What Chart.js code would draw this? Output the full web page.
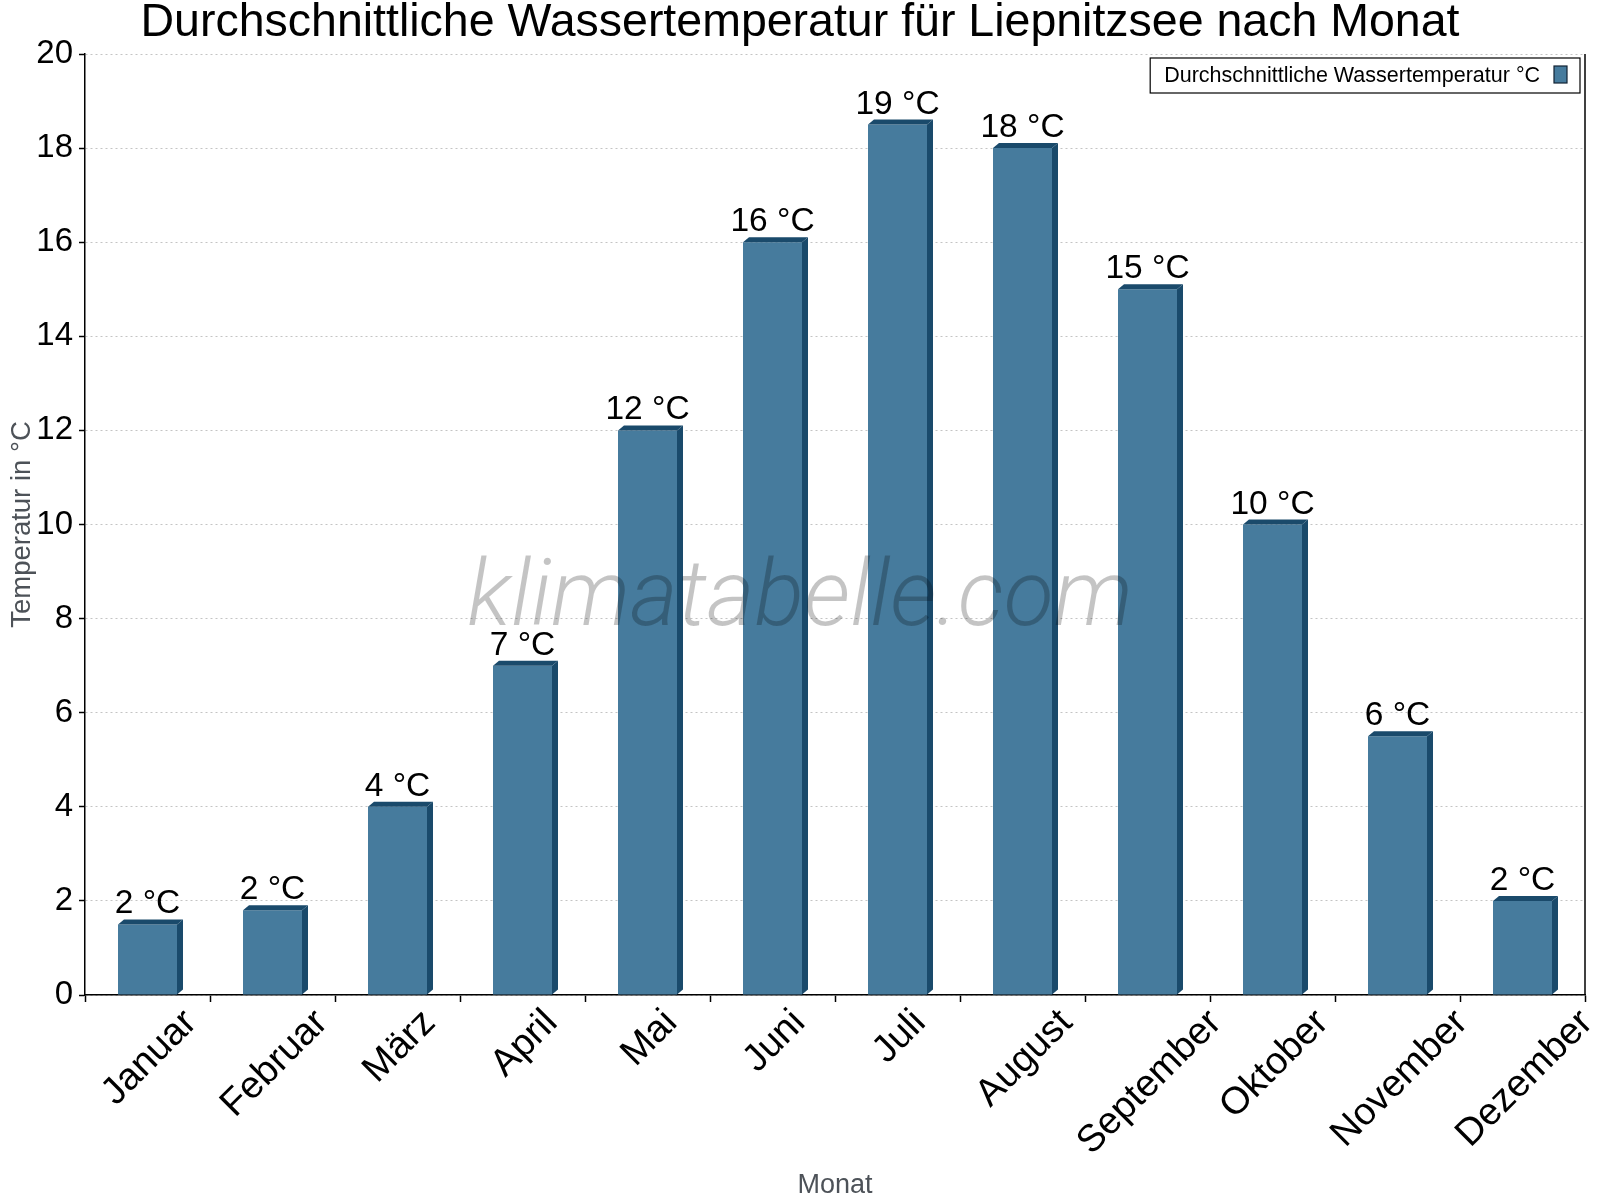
<!DOCTYPE html>
<html><head><meta charset="utf-8">
<script src="https://cdn.jsdelivr.net/npm/chart.js@4.4.0/dist/chart.umd.min.js"></script>
<style>html,body{margin:0;padding:0;background:#fff;}canvas{display:block;}</style>
</head><body>
<canvas id="c" width="1600" height="1200"></canvas>
<script>
const months = ['Januar','Februar','März','April','Mai','Juni','Juli','August','September','Oktober','November','Dezember'];
const waterTemp = [1.5, 1.8, 4, 7, 12, 16, 18.5, 18, 15, 10, 5.5, 2];
const yMin = 0, yMax = 20, yStep = 2;
const seriesLabel = 'Durchschnittliche Wassertemperatur °C';
const chartTitle = 'Durchschnittliche Wassertemperatur für Liepnitzsee nach Monat';
const yTitle = 'Temperatur in °C';
const xTitle = 'Monat';
const unit = '°C';
const watermarkText = 'klimatabelle.com';

const FRONT = '#467b9d';
const DARK = '#1a4a6b';
const FONT = "'Liberation Sans', Arial, sans-serif";
const DEPTH_X = 6, DEPTH_Y = 5;

const bar3d = {
  id: 'bar3d',
  afterDatasetsDraw(chart) {
    const ctx = chart.ctx;
    const meta = chart.getDatasetMeta(0);
    ctx.save();
    ctx.fillStyle = DARK;
    meta.data.forEach((bar) => {
      const l = bar.x - bar.width / 2, r = bar.x + bar.width / 2;
      const t = bar.y, b = bar.base;
      ctx.beginPath();
      ctx.moveTo(r, t); ctx.lineTo(r + DEPTH_X, t - DEPTH_Y);
      ctx.lineTo(r + DEPTH_X, b - DEPTH_Y); ctx.lineTo(r, b); ctx.closePath(); ctx.fill();
      ctx.beginPath();
      ctx.moveTo(l, t); ctx.lineTo(l + DEPTH_X, t - DEPTH_Y);
      ctx.lineTo(r + DEPTH_X, t - DEPTH_Y); ctx.lineTo(r, t); ctx.closePath(); ctx.fill();
    });
    // value labels
    ctx.fillStyle = '#000';
    ctx.font = '33.5px ' + FONT;
    ctx.textAlign = 'center';
    ctx.textBaseline = 'alphabetic';
    meta.data.forEach((bar, i) => {
      ctx.fillText(Math.round(waterTemp[i]) + ' ' + unit, bar.x, bar.y - 11);
    });
    // x labels rotated, centred on category
    const xs = chart.scales.x;
    const f = 38;
    ctx.font = f + 'px ' + FONT;
    ctx.textAlign = 'left';
    const capH = 0.716 * f, top = xs.top + 10;
    months.forEach((m, i) => {
      const cx = xs.getPixelForValue(i);
      const L = ctx.measureText(m).width;
      const cy = top + 0.7071 * (L + capH) / 2;
      ctx.save();
      ctx.translate(cx, cy);
      ctx.rotate(-Math.PI / 4);
      ctx.fillText(m, -L / 2, capH / 2);
      ctx.restore();
    });
    // right border
    const ca = chart.chartArea;
    ctx.strokeStyle = '#000';
    ctx.lineWidth = 1.5;
    ctx.beginPath();
    ctx.moveTo(ca.right, ca.top); ctx.lineTo(ca.right, ca.bottom); ctx.stroke();
    // legend
    ctx.font = '21.5px ' + FONT;
    const tw = ctx.measureText(seriesLabel).width;
    const bw = 14 + tw + 14 + 13 + 13, bh = 35;
    const bx = ca.right - 5 - bw, by = ca.top + 4;
    ctx.fillStyle = '#fff';
    ctx.fillRect(bx, by, bw, bh);
    ctx.lineWidth = 1.2;
    ctx.strokeRect(bx, by, bw, bh);
    ctx.fillStyle = '#000';
    ctx.textAlign = 'left';
    ctx.textBaseline = 'middle';
    ctx.fillText(seriesLabel, bx + 14, by + bh / 2 + 1);
    const sx = bx + 14 + tw + 14;
    ctx.fillStyle = FRONT;
    ctx.fillRect(sx, by + 8, 13, 17);
    ctx.strokeStyle = '#123';
    ctx.lineWidth = 1.2;
    ctx.strokeRect(sx, by + 8, 13, 17);
    // watermark
    ctx.font = "italic 300 92px Roboto, 'Liberation Sans', sans-serif";
    ctx.fillStyle = 'rgba(0,0,0,0.23)';
    ctx.textAlign = 'center';
    ctx.textBaseline = 'alphabetic';
    ctx.fillText(watermarkText, chart.width / 2, (ca.top + ca.bottom) / 2 + 100);
    ctx.restore();
  }
};

function makeChart() {
  new Chart(document.getElementById('c'), {
    type: 'bar',
    data: {
      labels: months,
      datasets: [{
        label: seriesLabel,
        data: waterTemp,
        backgroundColor: FRONT,
        borderWidth: 0,
        categoryPercentage: 1,
        barPercentage: 0.472
      }]
    },
    options: {
      responsive: false,
      devicePixelRatio: 1,
      animation: false,
      layout: { padding: { left: 15, right: 15, top: 0, bottom: 0 } },
      plugins: {
        legend: { display: false },
        tooltip: { enabled: false },
        title: {
          display: true,
          text: chartTitle,
          color: '#000',
          font: { family: FONT, size: 46.5, weight: 'normal', lineHeight: 1.0 },
          padding: { top: 0, bottom: 7.5 }
        }
      },
      scales: {
        x: {
          offset: true,
          grid: { offset: true, drawOnChartArea: false, drawTicks: true, tickLength: 7, tickColor: '#000', tickWidth: 1.5 },
          border: { display: true, color: '#000', width: 1.5 },
          ticks: { display: false },
          title: { display: true, text: xTitle, color: '#4d5258', font: { family: FONT, size: 27, lineHeight: 1.0 }, padding: { top: 0, bottom: 0.5 } },
          afterFit(s) { s.height = 205; }
        },
        y: {
          min: yMin, max: yMax,
          ticks: { stepSize: yStep, color: '#000', font: { family: FONT, size: 33 }, padding: 6 },
          grid: { color: '#c4c4c4', lineWidth: 1, drawTicks: true, tickLength: 6, tickColor: '#000', tickWidth: 1.5, tickBorderDash: [] },
          border: { display: true, color: '#000', width: 1.5, dash: [2, 3] },
          title: { display: true, text: yTitle, color: '#4d5258', font: { family: FONT, size: 27.5 }, padding: { top: -9, bottom: 0 } },
          afterFit(s) { s.width = 70; }
        }
      }
    },
    plugins: [bar3d]
  });
}

const fontReady = (document.fonts && document.fonts.load)
  ? Promise.all([
      document.fonts.load("italic 300 92px Roboto"),
      document.fonts.load("36px 'Liberation Sans'")
    ]).catch(() => null)
  : Promise.resolve();
fontReady.then(makeChart, makeChart);
</script>
</body></html>
